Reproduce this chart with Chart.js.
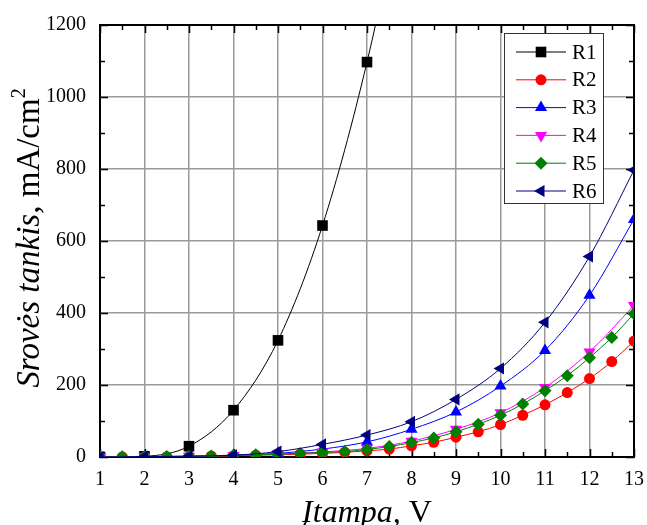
<!DOCTYPE html>
<html lang="lt">
<head>
<meta charset="UTF-8">
<title>Srovės tankis</title>
<script src="https://cdn.jsdelivr.net/npm/chart.js"></script>
<style>
  body { margin: 0; background: #fff; }
  .wrap { width: 647px; height: 525px; position: relative; }
</style>
</head>
<body>
<div class="wrap"><canvas id="chart"></canvas></div>
<script>
// voltage steps
const voltsWhole = [1, 2, 3, 4, 5, 6, 7, 8, 9, 10, 11, 12, 13];
const voltsHalf = [1, 1.5, 2, 2.5, 3, 3.5, 4, 4.5, 5, 5.5, 6, 6.5, 7, 7.5, 8, 8.5, 9, 9.5, 10, 10.5, 11, 11.5, 12, 12.5, 13];

// current density, mA/cm2
const r1Volts = [1, 2, 3, 4, 5, 6, 7, 8];
const r1 = [0, 2, 30, 130, 324, 643, 1097, 1680];
const r2 = [0, 0, 0.5, 1, 1.5, 2.5, 3.5, 5, 6, 8, 10, 13, 17, 22, 31, 41, 55, 70, 90, 116, 145, 179, 218, 265, 322];
const r3 = [0, 1, 2, 5, 10, 22, 42, 77, 125, 197, 296, 449, 660];
const r4 = [0, 1, 2, 4, 8, 14, 24, 44, 77, 123, 193, 292, 421];
const r5 = [0, 0.5, 1, 1.5, 2, 3, 4, 6, 8, 10, 13, 15, 21, 29, 40, 53, 70, 91, 116, 147, 184, 226, 276, 332, 398];
const r6 = [0, 1, 2, 5, 15, 35, 61, 98, 160, 246, 374, 557, 797];

const xTicks = [1, 2, 3, 4, 5, 6, 7, 8, 9, 10, 11, 12, 13];
const yTicks = [0, 200, 400, 600, 800, 1000, 1200];

const serif = "'Liberation Serif', 'Times New Roman', serif";

function pts(xs, ys) {
  return ys.map((y, i) => ({ x: xs[i], y: y }));
}

const series = [
  { label: 'R1', xs: r1Volts, ys: r1, color: '#000000', style: 'rect', radius: 7.5, rot: 0 },
  { label: 'R2', xs: voltsHalf, ys: r2, color: '#ff0000', style: 'circle', radius: 5.5, rot: 0 },
  { label: 'R3', xs: voltsWhole, ys: r3, color: '#0000ff', style: 'triangle', radius: 7, rot: 0 },
  { label: 'R4', xs: voltsWhole, ys: r4, color: '#ff00ff', style: 'triangle', radius: 7, rot: 180 },
  { label: 'R5', xs: voltsHalf, ys: r5, color: '#008000', style: 'rectRot', radius: 6.5, rot: 0 },
  { label: 'R6', xs: voltsWhole, ys: r6, color: '#000080', style: 'triangle', radius: 7, rot: 270 }
];

const datasets = series.map((s, i) => ({
  label: s.label,
  data: pts(s.xs, s.ys),
  borderColor: s.color,
  backgroundColor: s.color,
  borderWidth: 1,
  pointStyle: s.style,
  pointRadius: s.radius,
  pointRotation: s.rot,
  pointBorderWidth: 0,
  cubicInterpolationMode: 'monotone',
  order: series.length - i
}));

// axis lines, inward ticks, titles and legend box
const decor = {
  id: 'decor',
  beforeDatasetsDraw(chart) {
    const { ctx, chartArea: a, scales } = chart;
    const xs = scales.x, ys = scales.y;
    ctx.save();
    ctx.strokeStyle = '#000';
    ctx.lineWidth = 1.5;
    ctx.beginPath();
    for (let v = 1; v <= 13; v += 0.5) {
      const px = Math.round(xs.getPixelForValue(v)) + 0.5;
      const len = Number.isInteger(v) ? 8 : 5;
      ctx.moveTo(px, a.bottom); ctx.lineTo(px, a.bottom - len);
      ctx.moveTo(px, a.top); ctx.lineTo(px, a.top + len);
    }
    for (let v = 0; v <= 1200; v += 100) {
      const py = Math.round(ys.getPixelForValue(v)) + 0.5;
      const len = v % 200 === 0 ? 8 : 5;
      ctx.moveTo(a.left, py); ctx.lineTo(a.left + len, py);
      ctx.moveTo(a.right, py); ctx.lineTo(a.right - len, py);
    }
    ctx.stroke();
    ctx.lineWidth = 2;
    ctx.strokeRect(a.left, a.top, a.right - a.left, a.bottom - a.top);
    ctx.restore();
  },
  afterDraw(chart) {
    const { ctx, chartArea: a } = chart;
    ctx.save();
    ctx.fillStyle = '#000';
    ctx.textBaseline = 'alphabetic';

    // x title
    const xParts = [
      { t: 'Įtampa,', f: 'italic 32px ' + serif },
      { t: ' V', f: '32px ' + serif }
    ];
    let w = 0;
    xParts.forEach(p => { ctx.font = p.f; p.w = ctx.measureText(p.t).width; w += p.w; });
    let cx = (a.left + a.right) / 2 - w / 2;
    xParts.forEach(p => { ctx.font = p.f; ctx.fillText(p.t, cx, 522); cx += p.w; });

    // y title
    ctx.translate(39, 238);
    ctx.rotate(-Math.PI / 2);
    const yParts = [
      { t: 'Srovės tankis,', f: 'italic 33px ' + serif, dy: 0 },
      { t: ' mA/cm', f: '33px ' + serif, dy: 0 },
      { t: '2', f: '20px ' + serif, dy: -14 }
    ];
    w = 0;
    yParts.forEach(p => { ctx.font = p.f; p.w = ctx.measureText(p.t).width; w += p.w; });
    cx = -w / 2;
    yParts.forEach(p => { ctx.font = p.f; ctx.fillText(p.t, cx, p.dy); cx += p.w; });
    ctx.restore();

    // legend
    ctx.save();
    const bx = 504, by = 33, bw = 99, bh = 170;
    ctx.fillStyle = '#fff';
    ctx.fillRect(bx, by, bw, bh);
    ctx.strokeStyle = '#333';
    ctx.lineWidth = 1;
    ctx.strokeRect(bx + 0.5, by + 0.5, bw, bh);
    ctx.font = '21px ' + serif;
    ctx.textBaseline = 'middle';
    chart.data.datasets.forEach((d, i) => {
      const y = 52 + i * 27.8;
      ctx.strokeStyle = d.borderColor;
      ctx.lineWidth = 1;
      ctx.beginPath();
      ctx.moveTo(516, y); ctx.lineTo(566, y);
      ctx.stroke();
      ctx.fillStyle = d.backgroundColor;
      Chart.helpers.drawPoint(ctx, {
        pointStyle: d.pointStyle, radius: d.pointRadius, rotation: d.pointRotation, borderWidth: 0
      }, 541, y);
      ctx.fillStyle = '#000';
      ctx.fillText(d.label, 572, y + 1);
    });
    ctx.restore();
  }
};

new Chart(document.getElementById('chart'), {
  type: 'line',
  data: { datasets: datasets },
  options: {
    responsive: true,
    maintainAspectRatio: false,
    animation: false,
    layout: { padding: { left: 0, top: 25, right: 13, bottom: 0 } },
    plugins: { legend: { display: false }, tooltip: { enabled: false } },
    scales: {
      x: {
        type: 'linear',
        min: 1, max: 13,
        afterFit: s => { s.height = 68; s.paddingLeft = 0; s.paddingRight = 0; },
        afterBuildTicks: s => { s.ticks = xTicks.map(v => ({ value: v })); },
        grid: { color: '#9a9a9a', lineWidth: 1.5, drawTicks: false },
        border: { display: false },
        ticks: { color: '#000', padding: 11, font: { family: serif, size: 20 }, callback: v => String(v) }
      },
      y: {
        type: 'linear',
        min: 0, max: 1200,
        afterFit: s => { s.width = 100; s.paddingTop = 0; s.paddingBottom = 0; },
        afterBuildTicks: s => { s.ticks = yTicks.map(v => ({ value: v })); },
        grid: { color: '#9a9a9a', lineWidth: 1.5, drawTicks: false },
        border: { display: false },
        ticks: { color: '#000', padding: 14, font: { family: serif, size: 20 }, callback: v => String(v) }
      }
    }
  },
  plugins: [decor]
});
</script>
</body>
</html>
